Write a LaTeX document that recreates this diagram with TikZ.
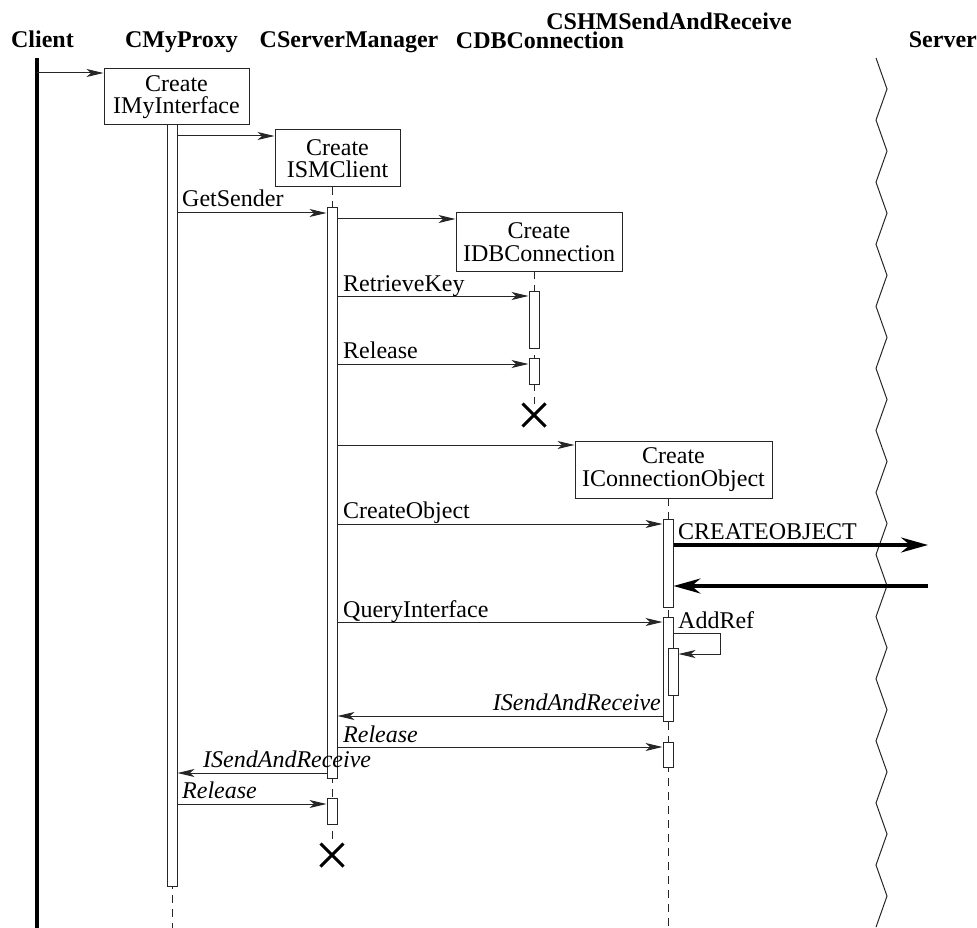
\documentclass[tikz,border=0pt]{standalone}
\usepackage{fontspec}
\setmainfont{Liberation Serif}
\usetikzlibrary{arrows.meta,shapes.misc}
\begin{document}
\begin{tikzpicture}[x=1pt,y=-1pt,
  objbox/.style={draw=black!85, line width=1pt, fill=white, inner sep=0pt, align=center,
                 font=\fontsize{24}{22.5}\selectfont},
  actbar/.style={draw=black!85, line width=1pt, fill=white, minimum width=10pt, inner sep=0pt},
  lifeline/.style={draw=black!85, line width=1pt, dash pattern=on 8pt off 6pt},
  msg/.style={draw=black!85, line width=1pt, -{Stealth[length=17pt,width=8pt,inset=4.5pt]}},
  bigmsg/.style={draw=black, line width=3.3pt, -{Stealth[length=27pt,width=15pt,inset=9pt]}},
  header/.style={font=\bfseries\fontsize{24}{24}\selectfont, anchor=base, inner sep=0pt},
  lbl/.style={font=\fontsize{24}{24}\selectfont, anchor=base west, inner sep=0pt},
  ilbl/.style={font=\itshape\fontsize{24}{24}\selectfont, anchor=base west, inner sep=0pt},
  killmark/.style={draw=black, cross out, line width=3pt, minimum size=20pt, inner sep=0pt},
]
\useasboundingbox (0,0) rectangle (977,928);

% column headers
\node[header] (hClient) at (42.5,48) {Client};
\node[header] (hProxy) at (181.5,48) {CMyProxy};
\node[header] (hSM) at (349,48) {CServerManager};
\node[header] (hDB) at (540,49) {CDBConnection};
\node[header] (hSH) at (669,30) {CSHMSendAndReceive};
\node[header, anchor=base east] (hSrv) at (977,48) {Server};

% client actor line
\coordinate (clTop) at (37,58);
\coordinate (clBot) at (37,928);
\draw[line width=4pt] (clTop) -- (clBot);

% server boundary (zigzag)
\coordinate (srvTop) at (876,58);
\draw[black!85, line width=1pt] (srvTop)
  \foreach \i in {1,...,14} { -- ++(11,31.04) -- ++(-11,31.04) };
\coordinate (srvA) at (928,545);
\coordinate (srvB) at (928,586);

% object creation boxes
\node[objbox, minimum width=145pt, minimum height=56pt] (oProxy) at (176.5,97) {Create\\IMyInterface};
\node[objbox, minimum width=125pt, minimum height=57pt] (oSM) at (337.5,158.5) {Create\\ISMClient};
\node[objbox, minimum width=166pt, minimum height=58pt] (oDB) at (539,242) {Create\\IDBConnection};
\node[objbox, minimum width=197pt, minimum height=57pt] (oSH) at (673.5,469.5) {Create\\IConnectionObject};

% destruction marks
\node[killmark] (xDB) at (534,415) {};
\node[killmark] (xSM) at (332,855) {};

% lifelines
\coordinate (pEnd) at (172,928);
\coordinate (shEnd) at (668,928);
\draw[lifeline] (172,125) -- (pEnd);
\draw[lifeline] (332,187) -- (xSM.north);
\draw[lifeline] (534,271) -- (xDB.north);
\draw[lifeline] (668,498) -- (shEnd);

% activation bars
\node[actbar, minimum height=761pt] (pbar) at (172,505.5) {};
\node[actbar, minimum height=570pt] (smA) at (332,493) {};
\node[actbar, minimum height=26pt] (smB) at (332,811) {};
\node[actbar, minimum height=57pt] (dbA) at (534,319.5) {};
\node[actbar, minimum height=26pt] (dbB) at (534,371) {};
\node[actbar, minimum height=88pt] (shA) at (668,563) {};
\node[actbar, minimum height=104pt] (shB) at (668,669) {};
\node[actbar, minimum height=47pt] (shN) at (673,671.5) {};
\node[actbar, minimum height=25pt] (shC) at (668,754.5) {};

% messages
\draw[msg] (clTop |- 0,73) -- (oProxy.west |- 0,73);
\draw[msg] (pbar.east |- 0,136) -- (oSM.west |- 0,136);
\draw[msg] (pbar.east |- 0,213) -- (smA.west |- 0,213);
\node[lbl] (lGet) at (182,207) {GetSender};
\draw[msg] (smA.east |- 0,219) -- (oDB.west |- 0,219);
\draw[msg] (smA.east |- 0,296) -- (dbA.west |- 0,296);
\node[lbl] (lKey) at (343,291) {RetrieveKey};
\draw[msg] (smA.east |- 0,364) -- (dbB.west |- 0,364);
\node[lbl] (lRel1) at (343,358) {Release};
\draw[msg] (smA.east |- 0,445) -- (oSH.west |- 0,445);
\draw[msg] (smA.east |- 0,524) -- (shA.west |- 0,524);
\node[lbl] (lCO) at (343,518) {CreateObject};
\draw[bigmsg] (shA.east |- 0,545) -- (srvA);
\node[lbl] (lCOB) at (678,539) {CREATEOBJECT};
\draw[bigmsg] (srvB) -- (shA.east |- 0,586);
\draw[msg] (smA.east |- 0,622) -- (shB.west |- 0,622);
\node[lbl] (lQI) at (343,617) {QueryInterface};
\draw[msg] (shB.east |- 0,633) -- (720,633) -- (720,654) -- (shN.east |- 0,654);
\node[lbl] (lAdd) at (678,628) {AddRef};
\draw[msg] (shB.west |- 0,716) -- (smA.east |- 0,716);
\node[ilbl, anchor=base east] (lSR1) at (661,710) {ISendAndReceive};
\draw[msg] (smA.east |- 0,747) -- (shC.west |- 0,747);
\node[ilbl] (lRel2) at (343,742) {Release};
\draw[msg] (smA.west |- 0,773) -- (pbar.east |- 0,773);
\node[ilbl] (lSR2) at (203,767) {ISendAndReceive};
\draw[msg] (pbar.east |- 0,804) -- (smB.west |- 0,804);
\node[ilbl] (lRel3) at (182,798) {Release};
\end{tikzpicture}
\end{document}
